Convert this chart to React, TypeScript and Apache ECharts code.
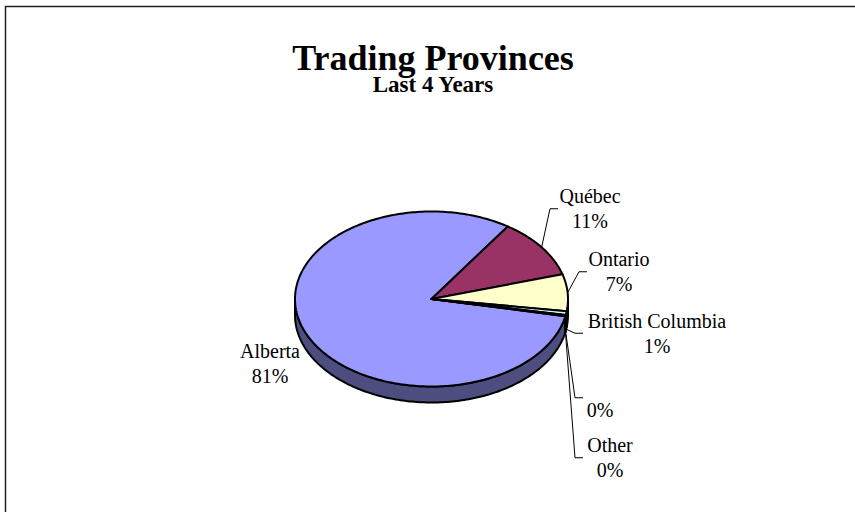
import React, { useEffect, useRef } from "react";
import * as echarts from "echarts";

// ---- data ----
const PROVINCES = ["Alberta", "Québec", "Ontario", "British Columbia", "", "Other"];
const SHARES = [81.3, 11.0, 6.8, 0.7, 0.1, 0.1];
const TOP_COLORS = ["#9999FF", "#993366", "#FFFFCC", "#CCFFFF", "#660066", "#FF8080"];
const SIDE_COLORS = ["#4D4D80", "#4D1A33", "#808066", "#668080", "#330033", "#804040"];
const TITLE = "Trading Provinces";
const SUBTITLE = "Last 4 Years";

// ---- layout ----
const CX = 431.5;
const CY = 299;
const RX = 136.5;
const RY = 87.5;
const DEPTH = 16;
const START_ANGLE = 101.3; // degrees, clockwise from 12 o'clock
const FONT = '"Liberation Serif", "Times New Roman", serif';
// label block centre and leader end x (null = no leader)
const LABEL_LAYOUT: { x: number; y: number; end: number | null }[] = [
  { x: 270, y: 363.25, end: null },
  { x: 590, y: 208.75, end: 558 },
  { x: 619, y: 271.75, end: 587 },
  { x: 657, y: 333.25, end: 583 },
  { x: 600, y: 397.75, end: 583 },
  { x: 610, y: 457.75, end: 583 },
];

const TOTAL = SHARES.reduce((a, b) => a + b, 0);

function sliceAngles(i: number): [number, number] {
  let cum = 0;
  for (let k = 0; k < i; k++) cum += SHARES[k];
  const a0 = START_ANGLE + (360 * cum) / TOTAL;
  const a1 = a0 + (360 * SHARES[i]) / TOTAL;
  return [a0, a1];
}

function pt(theta: number, dy = 0): number[] {
  const r = (theta * Math.PI) / 180;
  return [CX + RX * Math.sin(r), CY - RY * Math.cos(r) + dy];
}

function arc(a: number, b: number, dy = 0): number[][] {
  const n = Math.max(2, Math.ceil((b - a) / 1));
  const out: number[][] = [];
  for (let j = 0; j <= n; j++) out.push(pt(a + ((b - a) * j) / n, dy));
  return out;
}

function renderSide(params: any) {
  const i = params.dataIndex;
  const [a0, a1] = sliceAngles(i);
  const children: any[] = [];
  for (const k of [-360, 0, 360]) {
    const lo = Math.max(a0, 90 + k);
    const hi = Math.min(a1, 270 + k);
    if (hi > lo) {
      const pts = arc(lo, hi, 0).concat(arc(lo, hi, DEPTH).reverse());
      children.push({
        type: "polygon",
        shape: { points: pts },
        style: { fill: SIDE_COLORS[i], stroke: "#000", lineWidth: 2, lineJoin: "round" },
      });
    }
  }
  return { type: "group", children };
}

function renderTop(params: any) {
  const i = params.dataIndex;
  const [a0, a1] = sliceAngles(i);
  const children: any[] = [];
  children.push({
    type: "polygon",
    shape: { points: [[CX, CY]].concat(arc(a0, a1, 0)) },
    style: { fill: TOP_COLORS[i], stroke: "#000", lineWidth: 2, lineJoin: "round" },
    z2: 1,
  });
  const lay = LABEL_LAYOUT[i];
  const pct = Math.round((SHARES[i] / TOTAL) * 100) + "%";
  children.push({
    type: "text",
    x: lay.x,
    y: lay.y,
    style: {
      text: PROVINCES[i] + "\n" + pct,
      fill: "#000",
      font: "20px " + FONT,
      align: "center",
      verticalAlign: "middle",
      lineHeight: 25,
    },
    z2: 5,
  });
  if (lay.end !== null) {
    const mid = (a0 + a1) / 2;
    const lower = Math.cos((mid * Math.PI) / 180) < 0;
    const s = pt(mid, lower ? DEPTH : 0);
    children.push({
      type: "polyline",
      shape: { points: [s, [lay.end - 8, lay.y], [lay.end, lay.y]] },
      style: { stroke: "#000", lineWidth: 1, fill: "none" },
      z2: 5,
    });
  }
  return { type: "group", children };
}

export default function App() {
  const ref = useRef<HTMLDivElement>(null);
  useEffect(() => {
    if (!ref.current) return;
    const chart = echarts.init(ref.current, null, { renderer: "svg" });
    chart.setOption({
      animation: false,
      backgroundColor: "#fff",
      graphic: [
        {
          type: "rect",
          shape: { x: 5.5, y: 6.5, width: 1000, height: 1000 },
          style: { fill: "none", stroke: "#222", lineWidth: 1.5 },
          silent: true,
        },
        {
          type: "text",
          x: 433,
          y: 57.8,
          style: {
            text: TITLE,
            font: "bold 36px " + FONT,
            fill: "#000",
            align: "center",
            verticalAlign: "middle",
            lineHeight: 30,
          },
        },
        {
          type: "text",
          x: 433,
          y: 84,
          style: {
            text: SUBTITLE,
            font: "bold 23px " + FONT,
            fill: "#000",
            align: "center",
            verticalAlign: "middle",
            lineHeight: 18,
          },
        },
      ],
      series: [
        { type: "custom", coordinateSystem: "none", data: SHARES, renderItem: renderSide, z: 1, silent: true },
        { type: "custom", coordinateSystem: "none", data: SHARES, renderItem: renderTop, z: 2, silent: true },
      ],
    });
    return () => chart.dispose();
  }, []);
  return (
    <div
      ref={ref}
      style={{ position: "absolute", left: 0, top: 0, width: 855, height: 512, background: "#fff" }}
    />
  );
}
